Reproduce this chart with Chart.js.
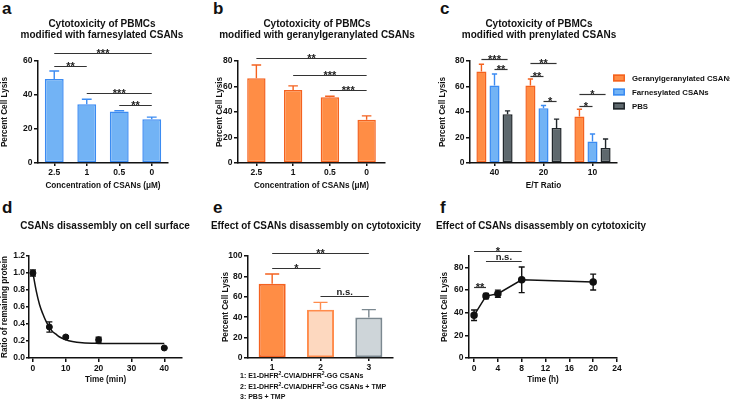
<!DOCTYPE html>
<html>
<head>
<meta charset="utf-8">
<title>CSANs cytotoxicity</title>
<script src="https://cdn.jsdelivr.net/npm/chart.js"></script>
<style>
  body { margin:0; background:#fff; width:730px; height:401px; overflow:hidden; position:relative; font-family:'Liberation Sans', Arial, sans-serif; }
  canvas { position:absolute; }
  .tag { position:absolute; font-weight:bold; font-size:17px; line-height:17px; color:#111; }
  .note { position:absolute; left:240px; top:371px; font-weight:bold; font-size:7px; line-height:10.5px; color:#111; white-space:nowrap; }
  .note sup { font-size:5px; line-height:0; vertical-align:3px; }
</style>
</head>
<body>
<div class="tag" style="left:2px;top:0px">a</div>
<div class="tag" style="left:213px;top:0px">b</div>
<div class="tag" style="left:440px;top:0px">c</div>
<div class="tag" style="left:2px;top:199px">d</div>
<div class="tag" style="left:213px;top:199px">e</div>
<div class="tag" style="left:440px;top:199px">f</div>

<canvas id="chartA" width="204" height="195" style="left:0;top:0"></canvas>
<canvas id="chartB" width="210" height="195" style="left:212px;top:0"></canvas>
<canvas id="chartC" width="292" height="195" style="left:438px;top:0"></canvas>
<canvas id="chartD" width="210" height="188" style="left:0;top:200px"></canvas>
<canvas id="chartE" width="210" height="188" style="left:211px;top:200px"></canvas>
<canvas id="chartF" width="210" height="188" style="left:436px;top:200px"></canvas>

<div class="note">
  1: E1-DHFR<sup>2</sup>-CVIA/DHFR<sup>2</sup>-GG CSANs<br>
  2: E1-DHFR<sup>2</sup>-CVIA/DHFR<sup>2</sup>-GG CSANs + TMP<br>
  3: PBS + TMP
</div>

<script>
// a: farnesylated CSANs
const concLabels = ['2.5', '1', '0.5', '0'];
const farnLysis = [49.4, 34.6, 30.3, 25.8];
const farnErr = [4.7, 2.9, 0.4, 1.2];
const farnSig = [[0, 3, 64.9, '***'], [0, 1, 57.3, '**'], [1, 3, 41, '***'], [2, 3, 34.2, '**']];

// b: geranylgeranylated CSANs
const ggLysis = [66.4, 57.3, 51.6, 33.9];
const ggErr = [10.5, 3.2, 0.8, 3.1];
const ggSig = [[0, 3, 82.1, '**'], [1, 3, 69, '***'], [2, 3, 57.3, '***']];

// c: E/T ratio
const etLabels = ['40', '20', '10'];
const prenylSeries = ['Geranylgeranylated CSANs', 'Farnesylated CSANs', 'PBS'];
const ggEt = [71.7, 60.7, 36.5];
const ggEtErr = [5.7, 5.2, 5.7];
const farnEt = [60.7, 43, 16.9];
const farnEtErr = [9.1, 2.1, 5.8];
const pbsEt = [38.3, 27.4, 11.7];
const pbsEtErr = [2.6, 7, 7.1];
// [dataset, category] pairs
const etSig = [
  [[0, 0], [2, 0], 81.6, '***'], [[1, 0], [2, 0], 73.7, '**'],
  [[0, 1], [2, 1], 78.2, '**'], [[0, 1], [1, 1], 68.4, '**'], [[1, 1], [2, 1], 48.7, '*'],
  [[0, 2], [2, 2], 53.9, '*'], [[0, 2], [1, 2], 44.8, '*']
];

// d: disassembly on cell surface
const decayTime = [0, 5, 10, 20, 40];
const decayRatio = [1.0, 0.365, 0.247, 0.215, 0.118];
const decayErr = [0.035, 0.06, 0.015, 0.03, 0.008];
const fitTime = [0, 1, 2, 3, 4, 5, 6, 7, 8, 10, 12, 15, 20, 25, 30, 40];
const fitRatio = [1.0, 0.79, 0.63, 0.52, 0.43, 0.36, 0.31, 0.28, 0.25, 0.215, 0.195, 0.18, 0.172, 0.17, 0.17, 0.17];

// e: disassembly effect
const disLabels = ['1', '2', '3'];
const disLysis = [72.8, 47.4, 39.8];
const disErr = [9.5, 7.1, 7.6];
const disSig = [[0, 2, 103, '**'], [0, 1, 88.2, '*'], [1, 2, 60.4, 'n.s.']];

// f: time course
const timeH = [0, 2, 4, 8, 20];
const timeLysis = [37.7, 54.6, 56.7, 69, 67];
const timeErr = [4.6, 2.4, 3.2, 11.3, 7];
const timeSig = [[0, 8, 94.8, '*'], [2, 8, 85.7, 'n.s.'], [0, 2, 62.9, '**']];

const AXIS = '#111';
const FONT = "'Liberation Sans', Arial, Helvetica, sans-serif";
const BLUE = '#72b3f5', BLUE_LINE = '#3b8bf2';
const ORANGE = '#ff8d45', ORANGE_LINE = '#f4621f';
const GREY = '#5e686d', GREY_LINE = '#20262a';

Chart.defaults.font.family = FONT;
Chart.defaults.font.weight = 'bold';
Chart.defaults.color = '#111';
Chart.defaults.animation = false;
Chart.defaults.plugins.legend.display = false;
Chart.defaults.plugins.tooltip.enabled = false;

// error bars: up only for bars, both ways for points
const errorBars = {
  id: 'errorBars',
  afterDatasetsDraw(chart) {
    const ctx = chart.ctx;
    chart.data.datasets.forEach((ds, di) => {
      if (!ds.errors) return;
      const meta = chart.getDatasetMeta(di);
      const ys = chart.scales[meta.yAxisID];
      meta.data.forEach((el, i) => {
        const e = ds.errors[i];
        const v = meta.controller.getParsed(i).y;
        const col = Array.isArray(ds.borderColor) ? ds.borderColor[i] : ds.borderColor;
        const top = ys.getPixelForValue(v + e);
        const bot = ds.errorBoth ? ys.getPixelForValue(v - e) : el.y;
        const half = el.width ? el.width * 0.26 : 3;
        ctx.save();
        ctx.strokeStyle = col;
        ctx.lineWidth = 1.4;
        ctx.beginPath();
        ctx.moveTo(el.x, bot); ctx.lineTo(el.x, top);
        ctx.moveTo(el.x - half, top); ctx.lineTo(el.x + half, top);
        if (ds.errorBoth) { ctx.moveTo(el.x - half, bot); ctx.lineTo(el.x + half, bot); }
        ctx.stroke();
        ctx.restore();
      });
    });
  }
};

const sigBars = {
  id: 'sigBars',
  afterDraw(chart) {
    const items = chart.data.sig;
    if (!items) return;
    const ctx = chart.ctx, xs = chart.scales.x, ys = chart.scales.y;
    const px = p => Array.isArray(p) ? chart.getDatasetMeta(p[0]).data[p[1]].x : xs.getPixelForValue(p);
    ctx.save();
    items.forEach(([a, b, v, label]) => {
      const x1 = px(a), x2 = px(b);
      const y = Math.round(ys.getPixelForValue(v)) + 0.5;
      ctx.strokeStyle = '#333';
      ctx.lineWidth = 1.2;
      ctx.beginPath(); ctx.moveTo(x1, y); ctx.lineTo(x2, y); ctx.stroke();
      const stars = label.includes('*');
      ctx.fillStyle = '#222';
      ctx.font = `bold ${stars ? 11 : 9.5}px ${FONT}`;
      ctx.textAlign = 'center';
      ctx.textBaseline = 'alphabetic';
      ctx.fillText(label, (x1 + x2) / 2, stars ? y + 3.5 : y - 2);
    });
    ctx.restore();
  }
};

// legend for c, to the right of the plot
const sideLegend = {
  id: 'sideLegend',
  afterDraw(chart) {
    const { ctx, chartArea } = chart;
    ctx.save();
    ctx.font = `bold 7.8px ${FONT}`;
    ctx.textBaseline = 'middle';
    ctx.textAlign = 'left';
    chart.data.datasets.forEach((ds, i) => {
      const x = chartArea.right - 4, y = chartArea.top + 17 + i * 14;
      ctx.fillStyle = ds.backgroundColor;
      ctx.fillRect(x, y - 3.5, 12, 7);
      ctx.strokeStyle = ds.borderColor;
      ctx.lineWidth = 1.5;
      ctx.strokeRect(x + 0.75, y - 2.75, 10.5, 5.5);
      ctx.fillStyle = '#111';
      ctx.fillText(ds.label, x + 19, y + 0.5);
    });
    ctx.restore();
  }
};

Chart.register(errorBars, sigBars);

function yAxis(max, step, width, title, extra = {}) {
  const ticks = { stepSize: step, padding: extra.pad ?? 1.5, font: { size: 8.5 } };
  if (extra.fmt) ticks.callback = extra.fmt;
  return {
    min: 0, max, ticks,
    grid: { drawOnChartArea: false, color: AXIS, lineWidth: 1.5, tickLength: extra.tick ?? 4 },
    border: { color: AXIS, width: 1.5 },
    title: { display: true, text: title, font: { size: 8.2 }, padding: extra.titlePad ?? 0 },
    afterFit: s => { s.width = width; }
  };
}

// empty right-hand axis, only to keep the plot narrower than the title
function spacer(width) {
  return {
    type: 'linear', axis: 'y', position: 'right',
    ticks: { display: false }, grid: { display: false }, border: { display: false },
    afterFit: s => { s.width = width; }
  };
}

function xCat(height, title, pad) {
  return {
    grid: { drawOnChartArea: false, offset: false, color: AXIS, lineWidth: 1.5, tickLength: 3 },
    border: { color: AXIS, width: 1.5 },
    ticks: { font: { size: 8.5 }, padding: 1.5, maxRotation: 0 },
    title: title ? { display: true, text: title, font: { size: 8.2 }, padding: { top: 0, bottom: pad } } : { display: false },
    afterFit: s => { s.height = height; }
  };
}

function xLin(min, max, step, height, title, pad) {
  return {
    type: 'linear', min, max,
    grid: { drawOnChartArea: false, color: AXIS, lineWidth: 1.5, tickLength: 4 },
    border: { color: AXIS, width: 1.5 },
    ticks: { stepSize: step, includeBounds: false, font: { size: 8.5 }, padding: 1.5, maxRotation: 0 },
    title: { display: true, text: title, font: { size: 8.2 }, padding: { top: 0, bottom: pad } },
    afterFit: s => { s.height = height; }
  };
}

function heading(text, top, bottom) {
  return { display: true, text, color: '#111', font: { size: 10, lineHeight: 1.15 }, padding: { top, bottom } };
}

// a
new Chart(document.getElementById('chartA'), {
  type: 'bar',
  data: {
    labels: concLabels,
    sig: farnSig,
    datasets: [{ data: farnLysis, errors: farnErr, backgroundColor: BLUE, borderColor: BLUE_LINE,
      borderWidth: 1.5, borderSkipped: false, barPercentage: 0.58, categoryPercentage: 1 }]
  },
  options: {
    responsive: false,
    plugins: { title: heading(['Cytotoxicity of PBMCs', 'modified with farnesylated CSANs'], 18.25, 19.75) },
    scales: {
      x: xCat(32, 'Concentration of CSANs (\u03bcM)', 4),
      y: yAxis(60, 20, 38, 'Percent Cell Lysis'),
      pad: spacer(36)
    }
  }
});

// b
new Chart(document.getElementById('chartB'), {
  type: 'bar',
  data: {
    labels: concLabels,
    sig: ggSig,
    datasets: [{ data: ggLysis, errors: ggErr, backgroundColor: ORANGE, borderColor: ORANGE_LINE,
      borderWidth: 1.5, borderSkipped: false, barPercentage: 0.5, categoryPercentage: 1 }]
  },
  options: {
    responsive: false,
    plugins: { title: heading(['Cytotoxicity of PBMCs', 'modified with geranylgeranylated CSANs'], 18.25, 19.75) },
    scales: {
      x: xCat(32, 'Concentration of CSANs (\u03bcM)', 4),
      y: yAxis(80, 20, 26, 'Percent Cell Lysis', { titlePad: 3 }),
      pad: spacer(37)
    }
  }
});

// c
const etFills = [ORANGE, BLUE, GREY], etLines = [ORANGE_LINE, BLUE_LINE, GREY_LINE];
new Chart(document.getElementById('chartC'), {
  type: 'bar',
  data: {
    labels: etLabels,
    sig: etSig,
    datasets: [ggEt, farnEt, pbsEt].map((vals, i) => ({
      label: prenylSeries[i], data: vals, errors: [ggEtErr, farnEtErr, pbsEtErr][i],
      backgroundColor: etFills[i], borderColor: etLines[i], borderWidth: 1.5, borderSkipped: false,
      barPercentage: 0.77, categoryPercentage: 0.8
    }))
  },
  options: {
    responsive: false,
    layout: { padding: { right: 90 } },
    plugins: { title: heading(['Cytotoxicity of PBMCs', 'modified with prenylated CSANs'], 18.25, 19.75) },
    scales: {
      x: xCat(32, 'E/T Ratio', 4),
      y: yAxis(80, 20, 32, 'Percent Cell Lysis'),
      pad: spacer(23)
    }
  },
  plugins: [sideLegend]
});

// d
new Chart(document.getElementById('chartD'), {
  type: 'scatter',
  data: {
    datasets: [
      { data: decayTime.map((t, i) => ({ x: t, y: decayRatio[i] })), errors: decayErr, errorBoth: true,
        pointRadius: 3, backgroundColor: '#111', borderColor: '#111' },
      { type: 'line', data: fitTime.map((t, i) => ({ x: t, y: fitRatio[i] })), borderColor: '#111',
        borderWidth: 1.5, pointRadius: 0, cubicInterpolationMode: 'monotone', fill: false }
    ]
  },
  options: {
    responsive: false,
    plugins: { title: heading('CSANs disassembly on cell surface', 20.25, 24.25) },
    scales: {
      x: xLin(-1.2, 45.4, 10, 30, 'Time (min)', 3.4),
      y: yAxis(1.2, 0.2, 29, 'Ratio of remaining protein', { fmt: v => v.toFixed(1), pad: 1, tick: 3 }),
      pad: spacer(28)
    }
  }
});

// e
new Chart(document.getElementById('chartE'), {
  type: 'bar',
  data: {
    labels: disLabels,
    sig: disSig,
    datasets: [{ data: disLysis, errors: disErr,
      backgroundColor: [ORANGE, '#fdd8bf', '#ced5d9'], borderColor: [ORANGE_LINE, '#ff8c4c', '#7b8890'],
      borderWidth: 2, borderSkipped: false, barPercentage: 0.56, categoryPercentage: 1 }]
  },
  options: {
    responsive: false,
    plugins: { title: heading('Effect of CSANs disassembly on cytotoxicity', 20.25, 24.25) },
    scales: {
      x: xCat(30, null, 0),
      y: yAxis(100, 20, 37, 'Percent Cell Lysis', { titlePad: 10 }),
      pad: spacer(28)
    }
  }
});

// f
new Chart(document.getElementById('chartF'), {
  type: 'line',
  data: {
    sig: timeSig,
    datasets: [{ data: timeH.map((t, i) => ({ x: t, y: timeLysis[i] })), errors: timeErr, errorBoth: true,
      borderColor: '#111', backgroundColor: '#111', borderWidth: 1.5, pointRadius: 3, fill: false }]
  },
  options: {
    responsive: false,
    plugins: { title: heading('Effect of CSANs disassembly on cytotoxicity', 20.25, 24.25) },
    scales: {
      x: xLin(-0.85, 24, 4, 30, 'Time (h)', 3.4),
      y: yAxis(90, 10, 33, 'Percent Cell Lysis', { titlePad: 4 }),
      pad: spacer(29)
    }
  }
});
</script>
</body>
</html>
